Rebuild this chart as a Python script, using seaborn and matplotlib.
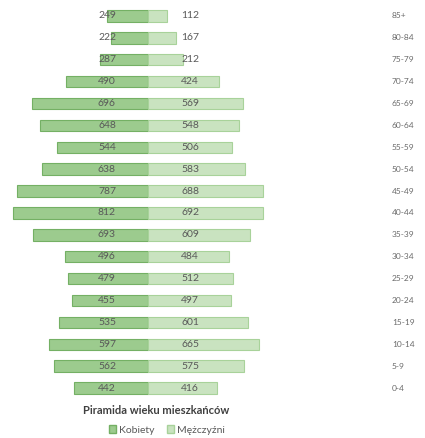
import matplotlib
matplotlib.use("Agg")
import matplotlib.pyplot as plt
import matplotlib.transforms as mtransforms
from matplotlib.patches import Patch
import seaborn as sns
import pandas as pd

ages = ["85+", "80-84", "75-79", "70-74", "65-69", "60-64", "55-59", "50-54", "45-49",
        "40-44", "35-39", "30-34", "25-29", "20-24", "15-19", "10-14", "5-9", "0-4"]
women = [249, 222, 287, 490, 696, 648, 544, 638, 787, 812, 693, 496, 479, 455, 535, 597, 562, 442]
men = [112, 167, 212, 424, 569, 548, 506, 583, 688, 692, 609, 484, 512, 497, 601, 665, 575, 416]
title = "Piramida wieku mieszkańców"
series_names = ["Kobiety", "Mężczyźni"]

sns.set_theme(style="white")
plt.rcParams['font.family'] = ['Lato', 'DejaVu Sans']

W, H = 425, 438
fig = plt.figure(figsize=(W / 100, H / 100), dpi=100)
ax = fig.add_axes([0 / W, 1 - 399 / H, 300 / W, 394 / H])

c_w, e_w = "#9ccb8e", "#74b064"
c_m, e_m = "#c9e3c0", "#a8d29a"

df_w = pd.DataFrame({"age": ages, "val": [-v for v in women]})
df_m = pd.DataFrame({"age": ages, "val": men})

sns.barplot(data=df_w, x="val", y="age", orient="h", color=c_w, edgecolor=e_w,
            linewidth=0.8, width=0.52, saturation=1, ax=ax, order=ages)
sns.barplot(data=df_m, x="val", y="age", orient="h", color=c_m, edgecolor=e_m,
            linewidth=0.8, width=0.52, saturation=1, ax=ax, order=ages)

ax.set_xlim(-888, 912)
ax.set_ylim(17.5, -0.5)
ax.axis("off")

for i, (w, m) in enumerate(zip(women, men)):
    ax.text(-246, i, str(w), ha="center", va="center", fontsize=7.5, color="#595959")
    ax.text(252, i, str(m), ha="center", va="center", fontsize=7.5, color="#595959")

trans = mtransforms.blended_transform_factory(fig.transFigure, ax.transData)
for i, a in enumerate(ages):
    ax.text(392 / W, i, a, transform=trans, ha="left", va="center", fontsize=6, color="#6a6a6a")

fig.text(156 / W, 1 - 411 / H, title, ha="center", va="center", fontsize=8,
         fontweight="bold", color="#404040")

handles = [Patch(facecolor=c_w, edgecolor=e_w), Patch(facecolor=c_m, edgecolor=e_m)]
fig.legend(handles, series_names, loc="center", bbox_to_anchor=(167 / W, 1 - 430 / H),
           ncol=2, frameon=False, fontsize=7.5, handlelength=0.7, handleheight=0.7,
           handletextpad=0.3, columnspacing=1.2, labelcolor="#595959")

fig.savefig("out.png", dpi=100)
